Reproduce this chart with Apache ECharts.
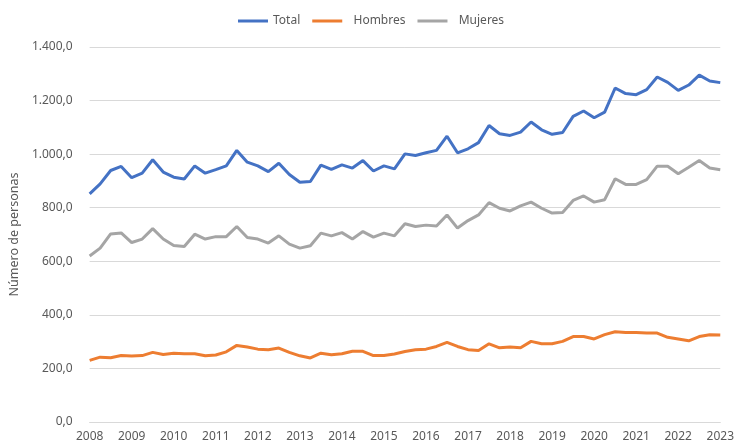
<!DOCTYPE html>
<html>
<head>
<meta charset="utf-8">
<script src="https://cdn.jsdelivr.net/npm/echarts@6/dist/echarts.min.js"></script>
<style>html,body{margin:0;padding:0;background:#fff;}#c{width:737px;height:445px;}</style>
</head>
<body>
<div id="c"></div>
<script>
const years = [2008,2009,2010,2011,2012,2013,2014,2015,2016,2017,2018,2019,2020,2021,2022,2023];
const categories = [];
years.forEach(y => { ['T1','T2','T3','T4'].forEach(q => { if (y < 2023 || q === 'T1') categories.push(y + ' ' + q); }); });

const total = [852,889,939,954, 912,929,979,933, 914,907,956,929, 942,956,1014,970,
  956,935,966,924, 895,898,959,943, 960,948,976,937, 956,945,1001,995,
  1005,1014,1067,1005, 1020,1043,1107,1076, 1070,1082,1120,1091, 1074,1081,1141,1161,
  1136,1157,1247,1226, 1222,1241,1288,1268, 1238,1258,1295,1273, 1267];
const hombres = [230,242,240,248, 246,248,260,252, 257,255,255,247, 250,262,286,280,
  272,270,276,260, 247,239,257,251, 255,264,264,248, 248,254,263,270,
  272,282,297,282, 270,267,292,277, 280,277,301,292, 292,301,319,319,
  310,326,337,334, 334,332,332,316, 310,303,319,326, 325];
const mujeres = [620,649,702,706, 670,683,722,683, 659,655,701,683, 692,692,730,689,
  683,668,695,664, 649,658,705,695, 707,683,711,690, 705,695,740,730,
  735,732,773,724, 752,773,819,798, 788,807,821,798, 780,782,827,844,
  821,830,908,887, 887,905,955,955, 927,951,976,948, 942];

const fmt = v => {
  const s = v.toFixed(1).split('.');
  return s[0].replace(/\B(?=(\d{3})+(?!\d))/g, '.') + ',' + s[1];
};

const chart = echarts.init(document.getElementById('c'), null, {renderer: 'canvas'});
const textColor = '#595959';
const font = 'Noto Sans';
chart.setOption({
  animation: false,
  backgroundColor: '#fff',
  color: ['#4472C4', '#ED7D31', '#A5A5A5'],
  legend: {
    top: 10,
    left: 233,
    icon: 'rect',
    itemWidth: 30,
    itemHeight: 3,
    itemGap: 12,
    formatter: n => n === 'Total' ? n : '  ' + n,
    textStyle: {color: textColor, fontFamily: font, fontSize: 12},
    data: ['Total', 'Hombres', 'Mujeres']
  },
  grid: {left: 83, right: 12, top: 47, bottom: 23, containLabel: false},
  xAxis: {
    type: 'category',
    data: categories,
    boundaryGap: false,
    axisLine: {show: true, lineStyle: {color: '#d9d9d9', width: 1}},
    axisTick: {show: false},
    axisLabel: {
      interval: 3,
      color: textColor, fontFamily: font, fontSize: 12, margin: 9,
      formatter: v => v.split(' ')[0]
    },
    splitLine: {show: false}
  },
  yAxis: {
    type: 'value',
    min: 0, max: 1400, interval: 200,
    name: 'Número de personas',
    nameLocation: 'middle',
    nameGap: 65,
    nameRotate: 90,
    nameTextStyle: {color: textColor, fontFamily: font, fontSize: 12.5},
    axisLine: {show: false},
    axisTick: {show: false},
    axisLabel: {color: textColor, fontFamily: font, fontSize: 12, margin: 17, formatter: fmt},
    splitLine: {lineStyle: {color: '#d9d9d9', width: 1}}
  },
  series: [
    {name: 'Total', type: 'line', data: total, symbol: 'none', lineStyle: {width: 3}},
    {name: 'Hombres', type: 'line', data: hombres, symbol: 'none', lineStyle: {width: 3}},
    {name: 'Mujeres', type: 'line', data: mujeres, symbol: 'none', lineStyle: {width: 3}}
  ]
});
</script>
</body>
</html>
